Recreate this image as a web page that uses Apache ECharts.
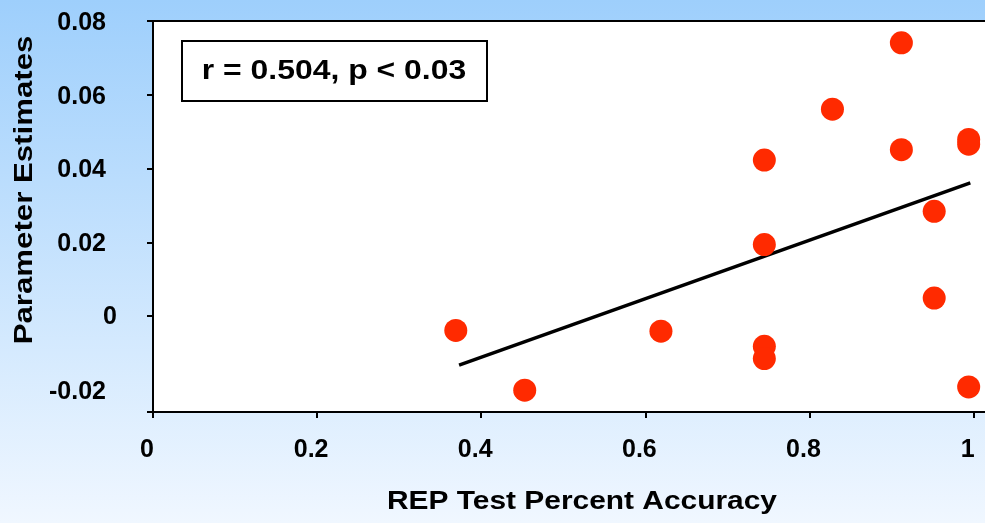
<!DOCTYPE html>
<html>
<head>
<meta charset="utf-8">
<script src="https://cdn.jsdelivr.net/npm/echarts@6/dist/echarts.min.js"></script>
<style>
html,body{margin:0;padding:0;}
#chart{width:985px;height:523px;}
</style>
</head>
<body>
<div id="chart"></div>
<script>
// Data
var accuracy = [0.369, 0.453, 0.619, 0.745, 0.745, 0.745, 0.745, 0.828, 0.912, 0.912, 0.952, 0.952, 0.994, 0.994, 0.994];
var estimates = [-0.0039, -0.0201, -0.0041, 0.0423, 0.0194, -0.0082, -0.0115, 0.0561, 0.0741, 0.0451, 0.0284, 0.0049, 0.0479, 0.0466, -0.0192];
var trendX = [0.373, 0.996];
var trendY = [-0.0133, 0.0361];
var xTicks = [0, 0.2, 0.4, 0.6, 0.8, 1];
var yTicks = [-0.02, 0, 0.02, 0.04, 0.06, 0.08];
var annotationText = 'r = 0.504, p < 0.03';
var xTitle = 'REP Test Percent Accuracy';
var yTitle = 'Parameter Estimates';

var points = accuracy.map(function (x, i) { return [x, estimates[i]]; });
var trend = trendX.map(function (x, i) { return [x, trendY[i]]; });

var FONT = 'Liberation Sans, Arial, sans-serif';
var chart = echarts.init(document.getElementById('chart'), null, {renderer: 'canvas'});
chart.setOption({
  animation: false,
  backgroundColor: {
    type: 'linear', x: 0, y: 0, x2: 0, y2: 1,
    colorStops: [{offset: 0, color: '#9ecffc'}, {offset: 1, color: '#f0f7ff'}]
  },
  grid: {
    left: 153, top: 21, right: -5, bottom: 111,
    outerBoundsMode: 'none', containLabel: false,
    show: true, backgroundColor: '#ffffff', borderColor: '#000000', borderWidth: 2
  },
  xAxis: {
    type: 'value', min: 0, max: 1.02,
    splitLine: {show: false},
    axisLine: {show: true, onZero: false, lineStyle: {color: '#000', width: 2}},
    axisTick: {show: true, length: 6, customValues: xTicks, lineStyle: {color: '#000', width: 2}},
    axisLabel: {
      customValues: xTicks,
      margin: 26,
      color: '#000', fontFamily: FONT, fontWeight: 'bold', fontSize: 25,
      padding: [0, 12, 0, 0],
      formatter: function (v) { return (v === 0 || v === 1) ? String(v) : v.toFixed(1); }
    }
  },
  yAxis: {
    type: 'value', min: -0.026, max: 0.08,
    splitLine: {show: false},
    axisLine: {show: true, onZero: false, lineStyle: {color: '#000', width: 2}},
    axisTick: {show: true, length: 6, customValues: [-0.026, 0, 0.02, 0.04, 0.06, 0.08], lineStyle: {color: '#000', width: 2}},
    axisLabel: {
      customValues: yTicks,
      margin: 36,
      color: '#000', fontFamily: FONT, fontWeight: 'bold', fontSize: 25,
      formatter: function (v) {
        if (Math.abs(v) < 1e-9) return '{z|0}';
        return '{n|' + v.toFixed(2) + '}';
      },
      rich: {
        z: {color: '#000', fontFamily: FONT, fontWeight: 'bold', fontSize: 25, padding: [2, 0, 0, 0]},
        n: {color: '#000', fontFamily: FONT, fontWeight: 'bold', fontSize: 25, padding: [4, 11, 0, 0]}
      }
    }
  },
  series: [
    {
      type: 'line', data: trend, showSymbol: false, symbol: 'none',
      lineStyle: {color: '#000', width: 3.5}, z: 2
    },
    {
      type: 'scatter', data: points, symbol: 'circle', symbolSize: 23,
      itemStyle: {color: '#ff2a00', opacity: 1}, z: 3
    }
  ],
  graphic: [
    {
      type: 'rect', left: 181, top: 40, z: 10,
      shape: {width: 305, height: 60},
      style: {fill: '#ffffff', stroke: '#000000', lineWidth: 2}
    },
    {
      type: 'text', x: 334, y: 71, z: 11, scaleX: 1.14,
      style: {text: annotationText, fill: '#000', font: 'bold 28px ' + FONT, textAlign: 'center', textVerticalAlign: 'middle'}
    },
    {
      type: 'text', x: 582, y: 502, z: 11, scaleX: 1.15,
      style: {text: xTitle, fill: '#000', font: 'bold 26px ' + FONT, textAlign: 'center', textVerticalAlign: 'middle'}
    },
    {
      type: 'text', x: 25, y: 190, z: 11, rotation: Math.PI / 2, scaleX: 1.2,
      style: {text: yTitle, fill: '#000', font: 'bold 26px ' + FONT, textAlign: 'center', textVerticalAlign: 'middle'}
    }
  ]
});
</script>
</body>
</html>
